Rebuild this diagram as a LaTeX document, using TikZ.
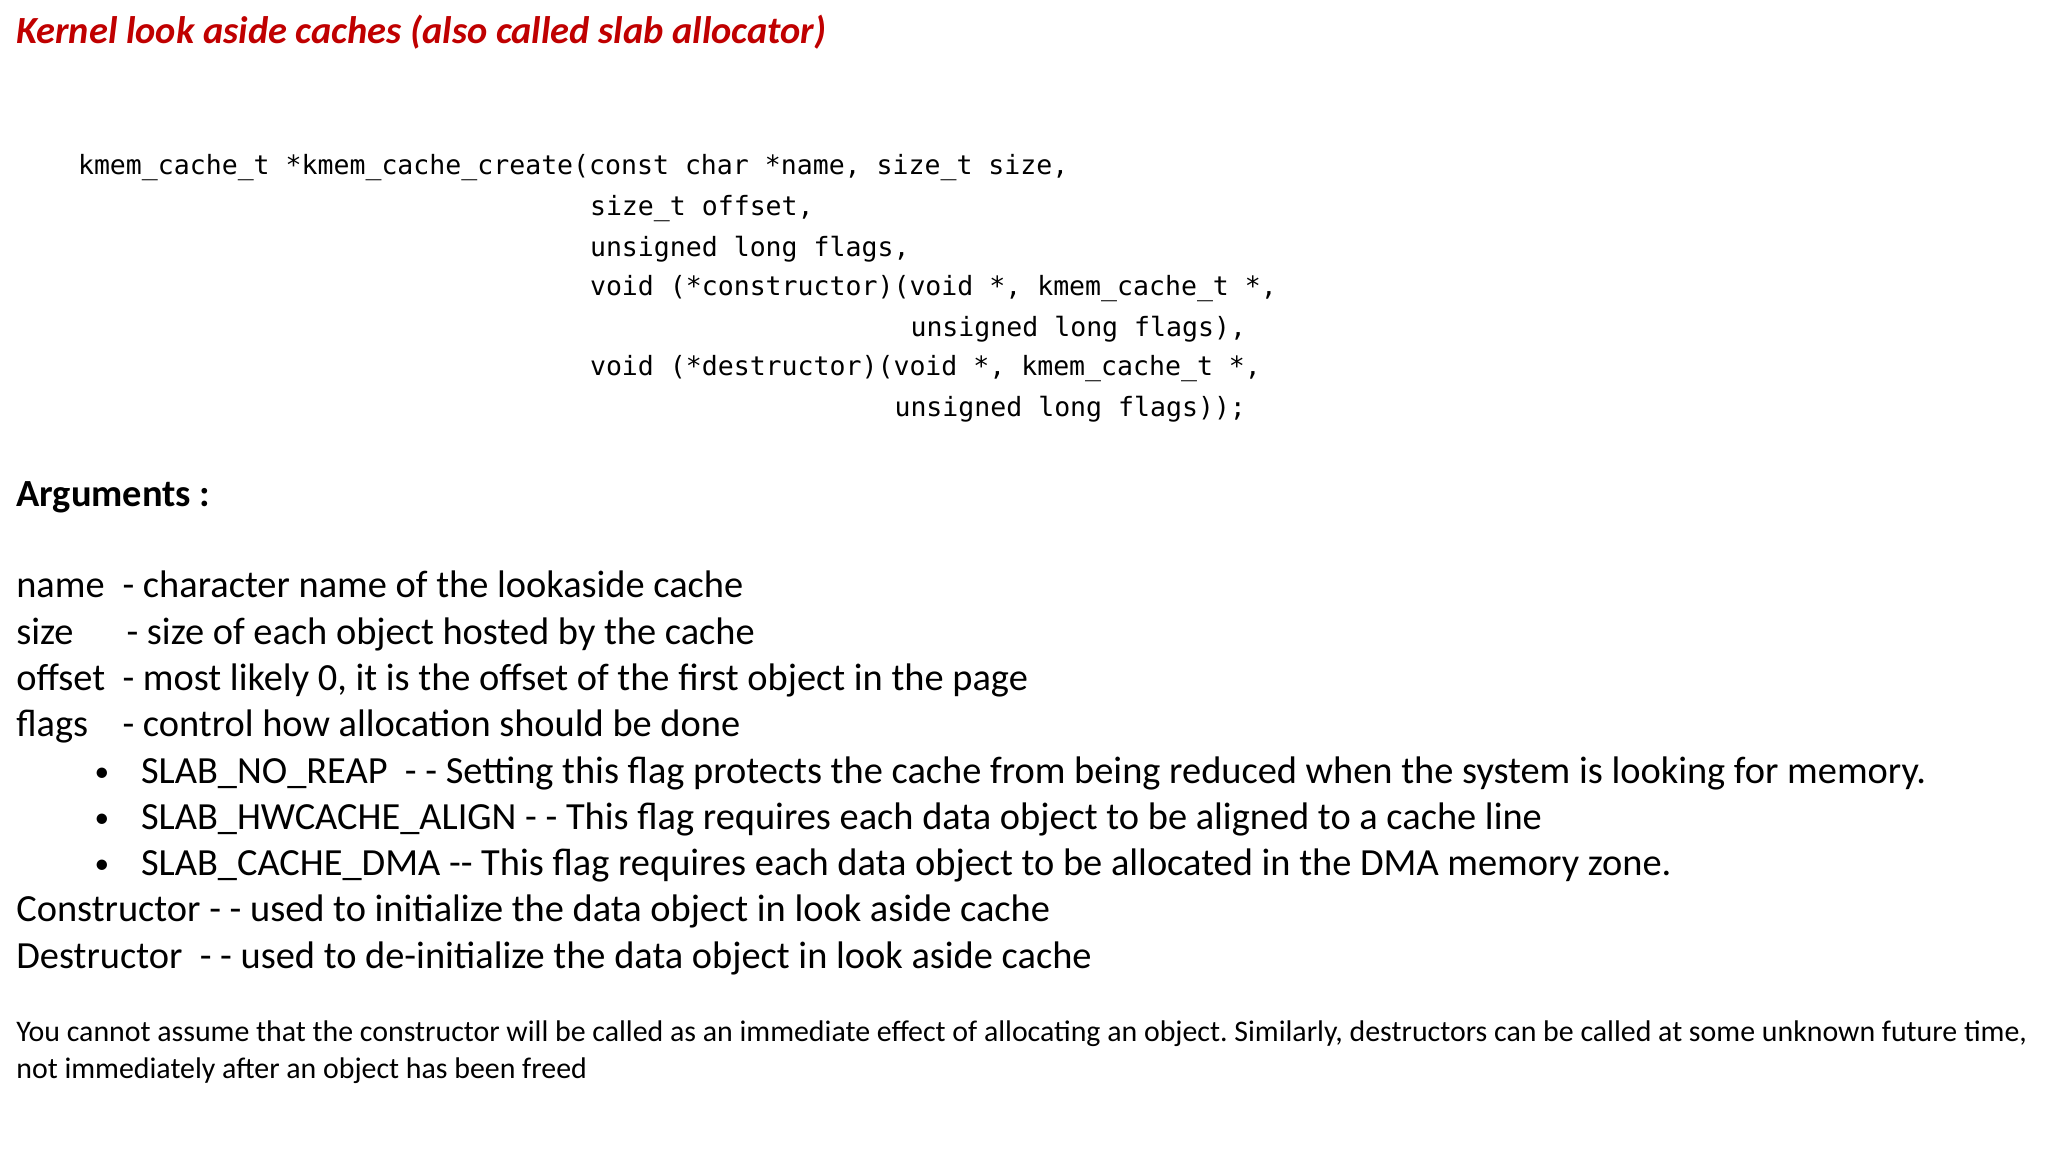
\documentclass[tikz,border=0pt]{standalone}
\usepackage{fontspec}
\setmainfont{Carlito}
\setmonofont{DejaVu Sans Mono}
\frenchspacing
\definecolor{titlered}{HTML}{C00000}
\begin{document}
\begin{tikzpicture}[x=0.375pt,y=-0.375pt,
  txt/.style={anchor=base west,inner sep=0pt,font=\fontsize{14.4}{17}\selectfont},
  code/.style={anchor=base west,inner sep=0pt,font=\ttfamily\fontsize{9.95}{12}\selectfont},
  foot/.style={anchor=base west,inner sep=0pt,font=\fontsize{11.2}{13}\selectfont}]
\useasboundingbox[fill=white] (0,0) rectangle (2048,1152);
\node[anchor=base west,inner sep=0pt,font=\bfseries\itshape\fontsize{14.4}{17}\selectfont,text=titlered] (title) at (15.8,43) {Kernel look aside caches (also called slab allocator)};
\node[code] (c1) at (77.5,174.6) {kmem\_cache\_t *kmem\_cache\_create(const char *name, size\_t size,};
\node[code] (c2) at (589.5,215.3) {size\_t offset,};
\node[code] (c3) at (589.5,256) {unsigned long flags,};
\node[code] (c4) at (589.5,295.4) {void (*constructor)(void *, kmem\_cache\_t *,};
\node[code] (c5) at (910,336) {unsigned long flags),};
\node[code] (c6) at (589.5,375.5) {void (*destructor)(void *, kmem\_cache\_t *,};
\node[code] (c7) at (894,416) {unsigned long flags));};
\node[txt,font=\bfseries\fontsize{14.4}{17}\selectfont] (args) at (15.8,506.7) {Arguments :};
\node[txt] (n1) at (15.8,597) {name};
\node[txt] (n1d) at (122,597) {- character name of the lookaside cache};
\node[txt] (n2) at (15.8,644.6) {size};
\node[txt] (n2d) at (126,644.6) {- size of each object hosted by the cache};
\node[txt] (n3) at (15.8,690.5) {offset};
\node[txt] (n3d) at (122,690.5) {- most likely 0, it is the offset of the first object in the page};
\node[txt] (n4) at (15.8,736.5) {flags};
\node[txt] (n4d) at (122,736.5) {- control how allocation should be done};
\node[txt,font=\fontsize{11}{13}\selectfont] (b1) at (94,781) {•};
\node[txt] (b1t) at (140.5,783.7) {SLAB\_NO\_REAP\ \ - - Setting this flag protects the cache from being reduced when the system is looking for memory.};
\node[txt,font=\fontsize{11}{13}\selectfont] (b2) at (94,827) {•};
\node[txt] (b2t) at (140.5,829.7) {SLAB\_HWCACHE\_ALIGN - - This flag requires each data object to be aligned to a cache line};
\node[txt,font=\fontsize{11}{13}\selectfont] (b3) at (94,873) {•};
\node[txt] (b3t) at (140.5,875.6) {SLAB\_CACHE\_DMA -{}- This flag requires each data object to be allocated in the DMA memory zone.};
\node[txt] (n5) at (15.8,921.6) {Constructor - - used to initialize the data object in look aside cache};
\node[txt] (n6) at (15.8,968.9) {Destructor\ \ - - used to de-initialize the data object in look aside cache};
\node[foot] (f1) at (15.8,1041) {You cannot assume that the constructor will be called as an immediate effect of allocating an object. Similarly, destructors can be called at some unknown future time,};
\node[foot] (f2) at (15.8,1078) {not immediately after an object has been freed};
\end{tikzpicture}
\end{document}
